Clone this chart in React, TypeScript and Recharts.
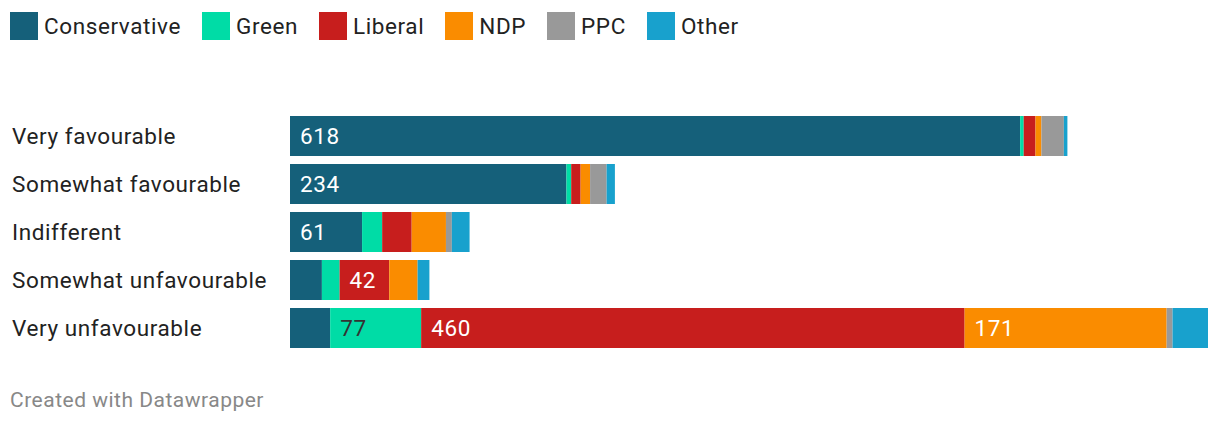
import React from 'react';
import {BarChart, Bar, XAxis, YAxis, LabelList} from 'recharts';

const categories = ['Very favourable', 'Somewhat favourable', 'Indifferent', 'Somewhat unfavourable', 'Very unfavourable'];
const conservative = [618, 234, 61, 27, 34];
const green = [3, 4, 17, 15, 77];
const liberal = [10, 8, 25, 42, 460];
const ndp = [5, 8, 29, 24, 171];
const ppc = [19, 14, 5, 0, 5];
const other = [3, 7, 15, 10, 30];

const parties = [
    {key: 'Conservative', values: conservative, color: '#15607a', text: '#ffffff'},
    {key: 'Green', values: green, color: '#00dca6', text: '#333333'},
    {key: 'Liberal', values: liberal, color: '#c71e1d', text: '#ffffff'},
    {key: 'NDP', values: ndp, color: '#fa8c00', text: '#ffffff'},
    {key: 'PPC', values: ppc, color: '#999999', text: '#ffffff'},
    {key: 'Other', values: other, color: '#18a1cd', text: '#ffffff'},
];

const data = categories.map((name, i) => {
    const row: any = {name};
    parties.forEach(p => { row[p.key] = p.values[i]; });
    return row;
});

const FONT = 'Roboto, sans-serif';
const SIZE = 22.5;
const SPACING = 0.6;

function ValueLabel(props: any, fill: string) {
    const {x, y, width, height, value} = props;
    if (!value || width < 45) return null;
    return (
        <text x={x + 10} y={y + height / 2} dy="0.36em" fill={fill}
              fontFamily={FONT} fontSize={SIZE} letterSpacing={SPACING}>{value}</text>
    );
}

function CategoryTick(props: any) {
    const {y, payload} = props;
    return (
        <text x={4} y={y} dy="0.36em" textAnchor="start" fill="#222"
              fontFamily={FONT} fontSize={SIZE} letterSpacing={SPACING}>{payload.value}</text>
    );
}

export default function App() {
    return (
        <div style={{position: 'relative', width: 1204, height: 410, fontFamily: FONT}}>
            <div style={{position: 'absolute', left: 2, top: 4, display: 'flex', alignItems: 'center', height: 28}}>
                {parties.map(p => (
                    <div key={p.key} style={{display: 'flex', alignItems: 'center', marginRight: 21}}>
                        <div style={{width: 28, height: 28, background: p.color, marginRight: 6}}/>
                        <span style={{fontSize: SIZE, letterSpacing: SPACING, color: '#222'}}>{p.key}</span>
                    </div>
                ))}
            </div>
            <div style={{position: 'absolute', left: 0, top: 0}}>
                <BarChart width={1204} height={360} data={data} layout="vertical"
                          margin={{top: 104, right: 4, bottom: 16, left: 0}}
                          barCategoryGap={8}>
                    <XAxis type="number" domain={[0, 777]} hide/>
                    <YAxis type="category" dataKey="name" width={282} axisLine={false}
                           tickLine={false} tick={<CategoryTick/>}/>
                    {parties.map(p => (
                        <Bar key={p.key} dataKey={p.key} stackId="a" fill={p.color}
                             barSize={40} isAnimationActive={false}>
                            <LabelList dataKey={p.key} content={(lp: any) => ValueLabel(lp, p.text)}/>
                        </Bar>
                    ))}
                </BarChart>
            </div>
            <div style={{position: 'absolute', left: 2, top: 380, fontSize: 21, letterSpacing: 0.5, color: '#888'}}>
                Created with Datawrapper
            </div>
        </div>
    );
}
